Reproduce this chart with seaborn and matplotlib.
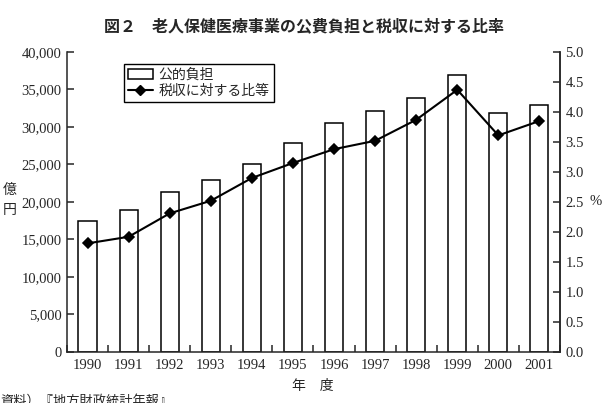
import seaborn as sns
import matplotlib.pyplot as plt
from matplotlib.patches import Patch
from matplotlib.lines import Line2D
from matplotlib.ticker import FuncFormatter, FixedLocator

# data
years = ['1990', '1991', '1992', '1993', '1994', '1995',
         '1996', '1997', '1998', '1999', '2000', '2001']
public_burden = [17500, 18900, 21300, 22900, 25100, 27900,
                 30500, 32100, 33800, 36900, 31800, 32900]  # 億円
tax_ratio = [1.81, 1.92, 2.31, 2.52, 2.90, 3.15,
             3.38, 3.52, 3.87, 4.37, 3.61, 3.85]  # %

sns.set_style('ticks')
plt.rcParams['font.family'] = ['Liberation Serif', 'Noto Sans CJK JP']
plt.rcParams['axes.linewidth'] = 1.1
jp = ['Noto Sans CJK JP', 'DejaVu Sans']

fig = plt.figure(figsize=(6.09, 4.03), dpi=100)
ax = fig.add_axes([0.110, 0.1266, 0.8095, 0.7444])

# bars - public burden
sns.barplot(x=years, y=public_burden, color='white', edgecolor='black',
            linewidth=1.1, width=0.44, saturation=1, ax=ax)
ax.set_ylim(0, 40000)
ax.set_yticks(range(0, 40001, 5000))
ax.yaxis.set_major_formatter(FuncFormatter(lambda v, p: f'{int(v):,}'))
ax.set_xlim(-0.5, len(years) - 0.5)

# line - ratio to tax revenue
ax2 = ax.twinx()
sns.pointplot(x=years, y=tax_ratio, color='black', markers='D',
              markersize=5, linewidth=1.5, errorbar=None, ax=ax2)
ax2.set_ylim(0, 5)
ax2.set_yticks([i * 0.5 for i in range(11)])
ax2.yaxis.set_major_formatter(FuncFormatter(lambda v, p: f'{v:.1f}'))
ax2.set_xlim(-0.5, len(years) - 0.5)

for a in (ax, ax2):
    a.set_xlabel('')
    a.set_ylabel('')
    a.spines['top'].set_visible(False)
    a.tick_params(axis='y', direction='in', length=5, width=1.1,
                  labelsize=10.5, pad=4)
ax2.spines['left'].set_visible(False)
ax2.spines['bottom'].set_visible(False)
ax.spines['right'].set_visible(True)

# x ticks: labels at bars, short marks between bars
ax.tick_params(axis='x', which='major', length=0, labelsize=10.5, pad=5)
ax.xaxis.set_minor_locator(FixedLocator([i + 0.5 for i in range(-1, len(years))]))
ax.tick_params(axis='x', which='minor', direction='in', length=5, width=1.1)
ax2.tick_params(axis='x', which='both', length=0, labelbottom=False)

# legend
handles = [Patch(facecolor='white', edgecolor='black', linewidth=1.1),
           Line2D([], [], color='black', marker='D', markersize=5, linewidth=1.5)]
leg = ax2.legend(handles, ['公的負担', '税収に対する比等'], loc='upper left',
                 bbox_to_anchor=(0.115, 0.96), prop={'family': jp, 'size': 10},
                 fancybox=False, edgecolor='black', framealpha=1,
                 borderpad=0.3, labelspacing=0.15, handlelength=1.8,
                 handletextpad=0.4, borderaxespad=0)
leg.get_frame().set_linewidth(1.0)

# texts
fig.text(0.5, 0.935, '図２　老人保健医療事業の公費負担と税収に対する比率',
         ha='center', va='center', fontsize=11.5, fontweight='bold', family=jp)
fig.text(10 / 609, 1 - 200 / 403, '億\n円', ha='center', va='center',
         fontsize=10, family=jp, linespacing=1.6)
fig.text(596 / 609, 1 - 202 / 403, '%', ha='center', va='center', fontsize=10.5)
fig.text(313 / 609, 1 - 386 / 403, '年　度', ha='center', va='center',
         fontsize=10, family=jp)
fig.text(0.0, 1 - 395 / 403, '資料）『地方財政統計年報』', ha='left', va='top',
         fontsize=9.5, family=jp)

plt.savefig('out.png', dpi=100)
